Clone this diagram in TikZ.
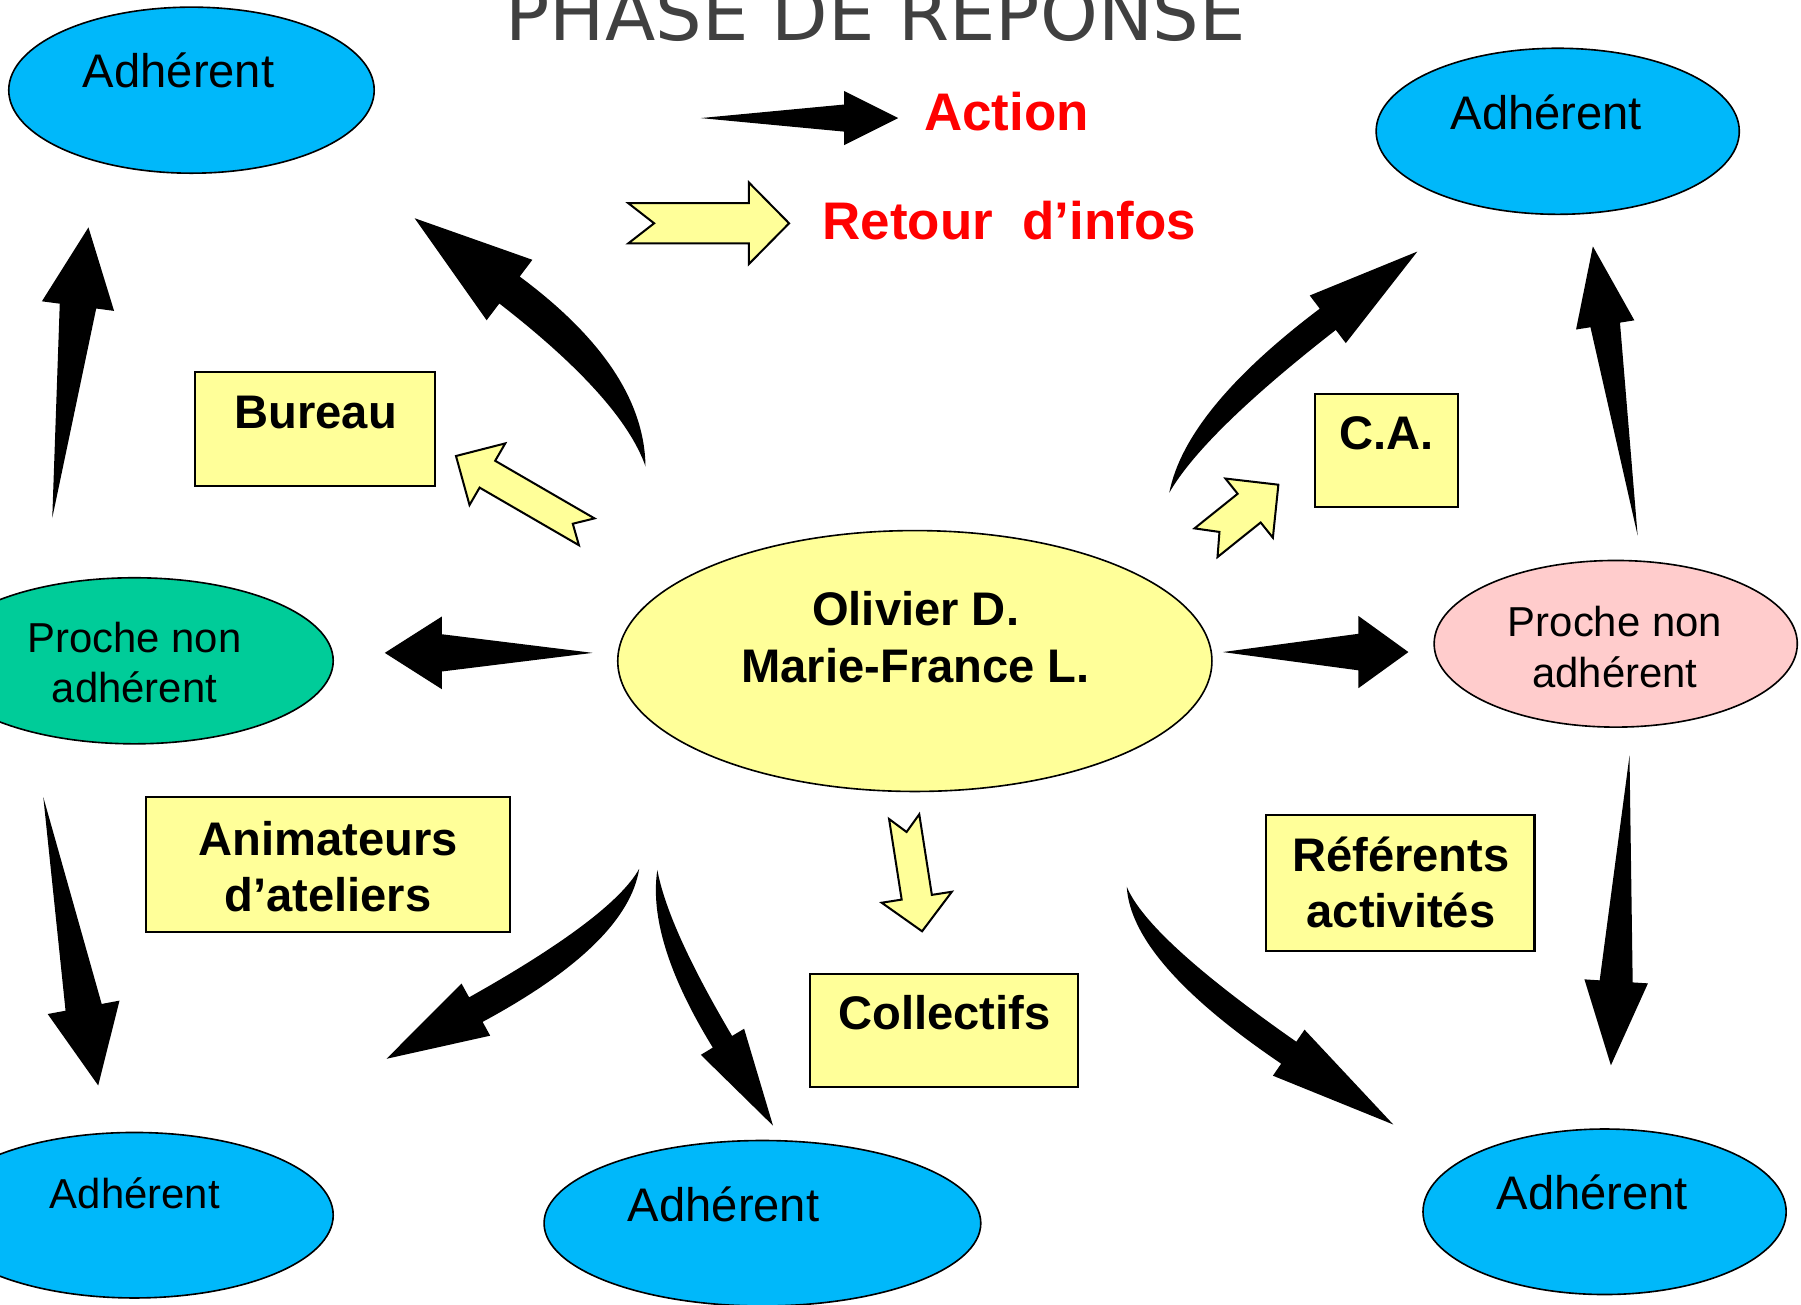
\documentclass[tikz,border=0pt]{standalone}
\usepackage{fontspec}
\setmainfont{Liberation Sans}
\newfontfamily\titlefont{DejaVu Sans}
\usetikzlibrary{shapes.geometric,calc}

\definecolor{adhblue}{RGB}{0,184,250}
\definecolor{prochegreen}{RGB}{0,204,153}
\definecolor{prochepink}{RGB}{255,204,204}
\definecolor{pale}{RGB}{255,255,153}
\definecolor{titlegray}{RGB}{64,64,64}

\newcommand{\bigarrow}[7]{%
  \path ($(#2)!#5*#7*0.01cm!90:(#3)$) coordinate (cl)
        ($(#2)!#5*#7*0.01cm!-90:(#3)$) coordinate (cr)
        ($(#3)!#5*0.01cm!90:(#4)$) coordinate (bl)
        ($(#3)!#5*0.01cm!-90:(#4)$) coordinate (br)
        ($(#3)!#6*0.01cm!90:(#4)$) coordinate (hl)
        ($(#3)!#6*0.01cm!-90:(#4)$) coordinate (hr);
  \fill (#1) .. controls ($(#1)!0.667!(cl)$) and ($(bl)!0.667!(cl)$) .. (bl)
        -- (hl) -- (#4) -- (hr) -- (br)
        .. controls ($(br)!0.667!(cr)$) and ($(#1)!0.667!(cr)$) .. (#1) -- cycle;
}
\newcommand{\notcharrow}[6]{%
  \path ($(#2)!#5*0.01cm!(#1)$) coordinate (nb)
        ($(#1)!#3*0.01cm!90:(#2)$) coordinate (ta)
        ($(#1)!#3*0.01cm!-90:(#2)$) coordinate (tb)
        ($(nb)!#3*0.01cm!90:(#2)$) coordinate (sa)
        ($(nb)!#3*0.01cm!-90:(#2)$) coordinate (sb)
        ($(nb)!#4*0.01cm!90:(#2)$) coordinate (ha)
        ($(nb)!#4*0.01cm!-90:(#2)$) coordinate (hb)
        ($(#1)!#6*0.01cm!(#2)$) coordinate (nt);
  \filldraw[infoarrow] (ta) -- (sa) -- (ha) -- (#2) -- (hb) -- (sb) -- (tb) -- (nt) -- cycle;
}

\begin{document}
\begin{tikzpicture}[x=0.01cm, y=-0.01cm,
        member/.style={ellipse, draw, line width=0.4pt, fill=adhblue, inner sep=0pt},
        proche/.style={ellipse, draw, line width=0.4pt, inner sep=0pt},
        role/.style={draw, line width=0.5pt, fill=pale, inner sep=0pt},
        adhtxt/.style={anchor=base, inner sep=0pt, font=\fontsize{11.67}{14}\selectfont},
        prochetxt/.style={anchor=base, inner sep=0pt, align=center, font=\fontsize{10.36}{12.6}\selectfont},
        roletxt/.style={anchor=base, inner sep=0pt, align=center, font=\bfseries\fontsize{11.67}{14}\selectfont},
        legendtxt/.style={anchor=base west, inner sep=0pt, text=red, font=\bfseries\fontsize{13.1}{15}\selectfont},
        infoarrow/.style={draw, line width=0.5pt, fill=pale, line join=miter}]
        \useasboundingbox (0,0) rectangle (1568,1136);

        \node[anchor=base, inner sep=0pt, text=titlegray, font=\titlefont\fontsize{18.2}{20}\selectfont] (title) at (762.5,35) {PHASE DE REPONSE};

        \node[member, minimum width=3.18cm, minimum height=1.445cm] (adhTL) at (166.7,78.5) {};
        \node[member, minimum width=3.16cm, minimum height=1.445cm] (adhTR) at (1356.2,114.3) {};
        \node[member, minimum width=3.46cm, minimum height=1.44cm] (adhBL) at (117,1058) {};
        \node[member, minimum width=3.80cm, minimum height=1.44cm] (adhBM) at (663.8,1065) {};
        \node[member, minimum width=3.16cm, minimum height=1.44cm] (adhBR) at (1397,1055) {};
        \node[proche, fill=prochegreen, minimum width=3.46cm, minimum height=1.445cm] (procheL) at (117,575.3) {};
        \node[proche, fill=prochepink, minimum width=3.16cm, minimum height=1.45cm] (procheR) at (1406.7,560.5) {};
        \node[proche, fill=pale, minimum width=5.17cm, minimum height=2.27cm] (core) at (796.5,575.5) {};

        \node[role, minimum width=2.09cm, minimum height=0.99cm] (bureau) at (274.2,373.3) {};
        \node[role, minimum width=1.238cm, minimum height=0.983cm] (ca) at (1207.1,391.8) {};
        \node[role, minimum width=3.165cm, minimum height=1.17cm] (anim) at (285.75,752.5) {};
        \node[role, minimum width=2.34cm, minimum height=0.984cm] (coll) at (821.85,896.8) {};
        \node[role, minimum width=2.34cm, minimum height=1.18cm] (ref) at (1218.9,768.85) {};

        \node[adhtxt] (adhTLtxt) at (155.5,76.2) {Adhérent};
        \node[adhtxt] (adhTRtxt) at (1346.4,112.5) {Adhérent};
        \node[adhtxt, font=\fontsize{10.36}{12.6}\selectfont] (adhBLtxt) at (117.4,1052) {Adhérent};
        \node[adhtxt] (adhBMtxt) at (630,1063.5) {Adhérent};
        \node[adhtxt] (adhBRtxt) at (1386.4,1053.4) {Adhérent};
        \node[prochetxt] (procheLtxt) at (117,612) {Proche non\\adhérent};
        \node[prochetxt] (procheRtxt) at (1406,598.5) {Proche non\\adhérent};
        \node[roletxt] (coretxt) at (797.2,594.2) {Olivier D.\\Marie-France L.};
        \node[roletxt] (bureautxt) at (274.8,373) {Bureau};
        \node[roletxt] (catxt) at (1207,391.1) {C.A.};
        \node[roletxt] (animtxt) at (285.6,793.8) {Animateurs\\d’ateliers};
        \node[roletxt] (colltxt) at (822.2,896.3) {Collectifs};
        \node[roletxt] (reftxt) at (1219.7,807.8) {Référents\\activités};

        \node[legendtxt] (action) at (804,113.7) {Action};
        \node[legendtxt] (retour) at (715.6,208.2) {Retour\ \ d’infos};

        \coordinate (lgT) at (610,102.8);    \coordinate (lgM) at (672.5,102.8);
        \coordinate (lgB) at (735,102.8);    \coordinate (lgH) at (782,102.8);
        \coordinate (upLT) at (45.5,451);    \coordinate (upLM) at (56.7,358.75);
        \coordinate (upLB) at (67.9,266.5);  \coordinate (upLH) at (77,198);
        \coordinate (bwT) at (562,406);      \coordinate (bwM) at (551,334);
        \coordinate (bwB) at (443.6,252.5);  \coordinate (bwH) at (361,190);
        \coordinate (caT) at (1018,429);     \coordinate (caM) at (1040,367);
        \coordinate (caB) at (1156,278);     \coordinate (caH) at (1234,219);
        \coordinate (upRT) at (1425.8,466.4); \coordinate (upRM) at (1411.7,374.65);
        \coordinate (upRB) at (1397.55,282.9); \coordinate (upRH) at (1386.8,214.5);
        \coordinate (lfT) at (516,568.4);    \coordinate (lfM) at (450.4,568.4);
        \coordinate (lfB) at (384.8,568.4);  \coordinate (lfH) at (335,568.4);
        \coordinate (rtT) at (1064.6,567.7); \coordinate (rtM) at (1123.6,567.7);
        \coordinate (rtB) at (1182.6,567.7); \coordinate (rtH) at (1226.2,567.7);
        \coordinate (dnLT) at (37.7,694);    \coordinate (dnLM) at (55.25,785.5);
        \coordinate (dnLB) at (72.8,877);    \coordinate (dnLH) at (85.5,945);
        \coordinate (anT) at (556.5,756.4);  \coordinate (anM) at (539.6,810);
        \coordinate (anB) at (414.3,879);    \coordinate (anH) at (336.5,921.8);
        \coordinate (coT) at (572.3,757.4);  \coordinate (coM) at (572.3,813);
        \coordinate (coB) at (629,907);      \coordinate (coH) at (673,980);
        \coordinate (reT) at (981,772);      \coordinate (reM) at (992,827);
        \coordinate (reB) at (1122,916.5);   \coordinate (reH) at (1213,979);
        \coordinate (dnRT) at (1418.7,657.9); \coordinate (dnRM) at (1412.9,756.15);
        \coordinate (dnRB) at (1407.1,854.4); \coordinate (dnRH) at (1402.5,927.5);

        \bigarrow{lgT}{lgM}{lgB}{lgH}{11.8}{23.5}{0.5}
        \bigarrow{upLT}{upLM}{upLB}{upLH}{16}{31.7}{0.5}
        \bigarrow{bwT}{bwM}{bwB}{bwH}{14.7}{33}{1.1}
        \bigarrow{caT}{caM}{caB}{caH}{11.6}{26}{1.1}
        \bigarrow{upRT}{upRM}{upRB}{upRH}{13}{25.7}{0.5}
        \bigarrow{lfT}{lfM}{lfB}{lfH}{16.2}{31.7}{0.5}
        \bigarrow{rtT}{rtM}{rtB}{rtH}{15.9}{31.5}{0.5}
        \bigarrow{dnLT}{dnLM}{dnLB}{dnLH}{16}{31.8}{0.5}
        \bigarrow{anT}{anM}{anB}{anH}{12.2}{25.9}{1.1}
        \bigarrow{coT}{coM}{coB}{coH}{9.8}{22}{1.1}
        \bigarrow{reT}{reM}{reB}{reH}{11.6}{24.3}{1.1}
        \bigarrow{dnRT}{dnRM}{dnRB}{dnRH}{14.4}{27.7}{0.5}

        \coordinate (rlT) at (547,194.4);    \coordinate (rlH) at (687,194.4);
        \coordinate (ybT) at (510.8,463);    \coordinate (ybH) at (397,397);
        \coordinate (ycT) at (1050,472.5);   \coordinate (ycH) at (1113,422);
        \coordinate (ylT) at (787.2,711);    \coordinate (ylH) at (802.8,810.8);

        \notcharrow{rlT}{rlH}{17.5}{35.5}{35}{22.5}
        \notcharrow{ybT}{ybH}{13.5}{31}{31.6}{14}
        \notcharrow{ycT}{ycH}{16}{33}{32.6}{15}
        \notcharrow{ylT}{ylH}{13.3}{30.9}{30}{13.5}
    \end{tikzpicture}
\end{document}
